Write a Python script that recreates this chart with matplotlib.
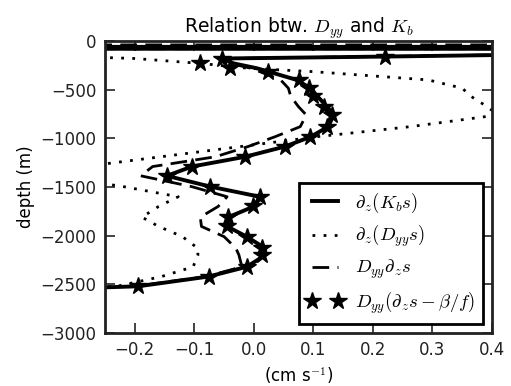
import matplotlib
matplotlib.use('Agg')
import matplotlib.pyplot as plt

plt.rcParams['mathtext.fontset'] = 'cm'
plt.rcParams['font.family'] = 'DejaVu Sans'

# model depth levels (m)
depth = [-10, -30, -50, -70, -90, -120, -160, -180, -230, -280, -315, -400,
         -485, -570, -675, -760, -880, -985, -1085, -1190, -1290, -1385,
         -1495, -1600, -1700, -1810, -1905, -2010, -2130, -2200, -2320,
         -2420, -2520, -2600]

# d_z(K_b s)
dz_kbs = [25, 25, 25, -25, 25, 0.7, 0.22, -0.054, -0.034, 0.005, 0.025, 0.072,
          0.095, 0.107, 0.123, 0.134, 0.125, 0.095, 0.052, -0.015, -0.104,
          -0.146, -0.074, 0.010, 0.0, -0.043, -0.045, -0.012, 0.019, 0.019,
          -0.012, -0.076, -0.194, -0.6]

# d_z(D_yy s)
dz_dyys = [-25, -25, -25, -25, -25, -25, -0.3, -0.2, -0.09, -0.01, 0.10, 0.293,
           0.35, 0.365, 0.392, 0.41, 0.263, 0.104, -0.023, -0.157, -0.285,
           -0.34, -0.22, -0.127, -0.16, -0.188, -0.16, -0.12, -0.094, -0.094,
           -0.102, -0.155, -0.23, -0.5]

# D_yy d_z s
dyy_dzs = [25, 25, -25, -25, 25, 0.7, 0.2, -0.05, -0.04, -0.005, 0.01, 0.045,
           0.058, 0.062, 0.075, 0.088, 0.078, 0.035, -0.01, -0.065, -0.17,
           -0.19, -0.105, -0.045, -0.06, -0.09, -0.088, -0.05, -0.03, -0.025,
           -0.02, -0.08, -0.2, -0.6]

# D_yy (d_z s - beta/f)
dyy_beta = [25, 25, 25, 25, 25, 25, 0.221, -0.054, -0.09, -0.04, 0.0245, 0.075,
            0.092, 0.10, 0.117, 0.131, 0.123, 0.095, 0.0525, -0.0147, -0.104,
            -0.146, -0.0735, 0.0105, -0.0007, -0.043, -0.045, -0.012, 0.013,
            0.013, -0.012, -0.076, -0.194, -0.6]

fig = plt.figure(figsize=(5.11, 3.86), dpi=100)
ax = fig.add_axes([0.2055, 0.1373, 0.7573, 0.7565])

ax.plot(dz_kbs, depth, color='k', lw=2.8, label=r'$\partial_z(K_b s)$')
ax.plot(dz_dyys, depth, color='k', lw=2, linestyle=(0, (1, 3)),
        label=r'$\partial_z(D_{yy} s)$')
ax.plot(dyy_dzs, depth, color='k', lw=2, linestyle=(0, (6, 3)),
        label=r'$D_{yy}\partial_z s$')
ax.plot(dyy_beta, depth, color='k', linestyle='none', marker='*', ms=13,
        label=r'$D_{yy}(\partial_z s - \beta/f)$')

ax.set_xlim(-0.25, 0.4)
ax.set_ylim(-3000, 0)
ax.set_xticks([-0.2, -0.1, 0.0, 0.1, 0.2, 0.3, 0.4])
ax.set_yticks([0, -500, -1000, -1500, -2000, -2500, -3000])
ax.tick_params(direction='in', top=True, right=True, length=7, width=1.2,
               labelsize=12, pad=6, colors='#222222')
for s in ax.spines.values():
    s.set_linewidth(2)
    s.set_color('#222222')

ax.set_title(r'Relation btw. $D_{yy}$ and $K_b$', fontsize=13.5)
ax.set_xlabel(r'(cm s$^{-1}$)', fontsize=12)
ax.set_ylabel('depth (m)', fontsize=12)

leg = ax.legend(loc='lower right', fontsize=13.5, numpoints=2, fancybox=False,
                framealpha=1, edgecolor='k', borderaxespad=0.5,
                labelspacing=0.45, handletextpad=0.6)
leg.get_frame().set_linewidth(2)

plt.savefig('out.png', dpi=100)
